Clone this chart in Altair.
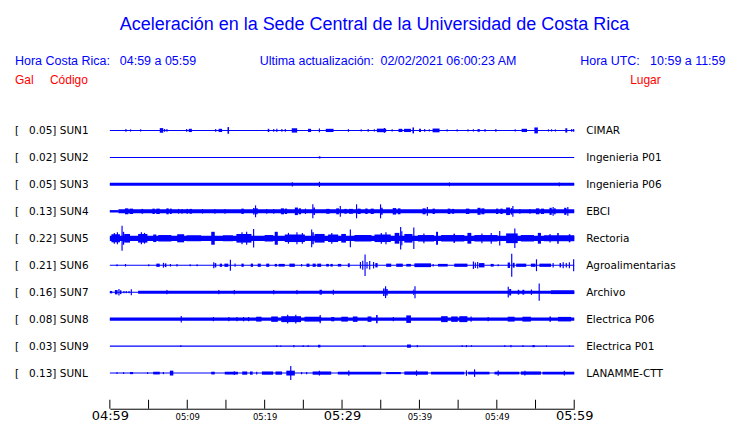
import json
import altair as alt
import pandas as pd

# ---------------- data ----------------
CODES = ["SUN1", "SUN2", "SUN3", "SUN4", "SUN5", "SUN6", "SUN7", "SUN8", "SUN9", "SUNL"]
PLACES = ["CIMAR", "Ingenieria P01", "Ingenieria P06", "EBCI", "Rectoria",
          "Agroalimentarias", "Archivo", "Electrica P06", "Electrica P01", "LANAMME-CTT"]
PEAK_GAL = [0.05, 0.02, 0.05, 0.13, 0.22, 0.21, 0.16, 0.08, 0.03, 0.13]
# thin base line of every trace (half amplitude, Gal)
BASE_GAL = [0.0095, 0.0095, 0.0095, 0.0095, 0.0095, 0.0095, 0.0095, 0.0095, 0.0095, 0.0095]

# envelope segments: (start minute, end minute, half amplitude in Gal)
SUN1 = [(2.0, 2.15, 0.025), (2.6, 2.75, 0.02), (3.9, 4.05, 0.02), (6.45, 6.9, 0.043), (7.0, 7.15, 0.025),
        (7.3, 7.45, 0.025), (9.85, 10.0, 0.025), (10.2, 10.6, 0.03), (13.6, 13.75, 0.025), (14.05, 14.5, 0.03),
        (15.2, 15.4, 0.062), (20.4, 20.6, 0.03), (21.1, 21.25, 0.025), (21.5, 21.65, 0.03), (22.15, 22.3, 0.025),
        (22.6, 22.75, 0.025), (23.5, 24.2, 0.04), (25.6, 26.0, 0.03), (27.0, 27.15, 0.035), (27.9, 28.9, 0.03),
        (30.75, 30.9, 0.025), (32.4, 32.55, 0.02), (33.3, 33.45, 0.025), (34.1, 34.25, 0.02), (34.5, 35.7, 0.033),
        (35.4, 35.55, 0.045), (36.4, 36.55, 0.02), (37.3, 37.8, 0.03), (38.0, 38.9, 0.03), (39.1, 39.3, 0.055),
        (39.95, 40.2, 0.03), (40.6, 40.75, 0.025), (41.2, 41.35, 0.02), (41.7, 42.6, 0.035), (43.5, 43.65, 0.02),
        (44.8, 44.95, 0.02), (46.2, 46.35, 0.02), (46.9, 47.05, 0.02), (47.5, 47.8, 0.025), (48.4, 48.55, 0.025),
        (49.8, 49.95, 0.025), (52.3, 52.45, 0.02), (53.2, 53.9, 0.03), (54.85, 55.3, 0.055), (56.6, 56.75, 0.02),
        (57.0, 57.15, 0.02), (57.5, 57.65, 0.02), (58.85, 59.1, 0.04), (59.6, 59.75, 0.025), (59.85, 60.0, 0.025)]
SUN2 = [(27.0, 27.2, 0.02)]
SUN3 = [(0.0, 60.0, 0.028), (23.5, 23.65, 0.04), (27.0, 27.15, 0.048), (43.8, 43.95, 0.035), (58.0, 58.15, 0.035)]
SUN4 = [(0.0, 1.1, 0.022), (1.1, 60.0, 0.037), (1.95, 2.4, 0.055), (2.55, 3.0, 0.05), (4.1, 4.3, 0.045),
        (5.5, 5.8, 0.05), (6.0, 6.45, 0.05), (7.3, 7.6, 0.055), (7.75, 8.0, 0.05), (8.8, 8.95, 0.045),
        (9.25, 9.4, 0.045), (9.9, 10.1, 0.045), (10.3, 10.6, 0.045), (11.9, 12.05, 0.042),
        (13.5, 13.65, 0.045), (14.8, 14.95, 0.045), (17.0, 17.3, 0.05), (18.5, 18.7, 0.06), (18.75, 18.9, 0.11),
        (18.9, 19.1, 0.055), (20.2, 20.35, 0.045), (21.1, 21.25, 0.045), (22.1, 22.5, 0.055), (22.6, 22.9, 0.05),
        (23.9, 24.3, 0.07), (24.4, 24.7, 0.055), (25.2, 25.35, 0.05),
        (26.15, 26.3, 0.13), (26.3, 26.5, 0.07), (27.95, 28.4, 0.045), (29.25, 29.6, 0.055), (29.7, 29.85, 0.1),
        (30.3, 30.6, 0.045), (30.9, 31.4, 0.045), (31.8, 31.95, 0.13), (32.0, 32.4, 0.05), (33.0, 33.3, 0.05),
        (33.7, 34.1, 0.05), (34.9, 35.05, 0.13), (35.05, 35.25, 0.065), (36.55, 37.0, 0.06), (37.2, 37.55, 0.055),
        (40.4, 40.8, 0.055), (40.95, 41.1, 0.08), (41.7, 42.0, 0.05), (43.65, 44.0, 0.05), (44.2, 44.5, 0.045),
        (46.0, 46.45, 0.05), (47.5, 47.9, 0.065), (48.0, 48.4, 0.055), (49.9, 50.2, 0.05), (50.45, 50.75, 0.05),
        (51.2, 51.7, 0.07), (51.8, 52.0, 0.06), (52.0, 52.15, 0.1), (52.9, 53.05, 0.045), (54.2, 54.35, 0.045),
        (55.05, 55.5, 0.055), (55.7, 56.1, 0.05), (56.8, 57.1, 0.065), (57.2, 57.35, 0.08), (57.4, 57.6, 0.055),
        (58.7, 59.0, 0.065), (59.1, 59.25, 0.08)]
SUN5 = [(0.0, 60.0, 0.049), (0.2, 1.3, 0.075), (0.5, 0.65, 0.1), (0.9, 1.05, 0.11), (1.5, 1.65, 0.23),
        (1.65, 1.85, 0.12), (1.85, 2.6, 0.08), (3.65, 4.85, 0.08), (4.0, 4.15, 0.11), (4.4, 4.55, 0.1),
        (5.6, 6.0, 0.07), (6.25, 7.95, 0.06), (8.7, 9.6, 0.075), (9.9, 11.8, 0.055), (13.1, 13.55, 0.12),
        (14.6, 15.9, 0.055), (16.35, 18.3, 0.08), (17.0, 17.15, 0.11), (17.6, 17.75, 0.12), (18.5, 18.65, 0.17),
        (20.0, 21.1, 0.06), (21.3, 21.7, 0.12), (22.6, 25.2, 0.07), (23.0, 23.15, 0.1), (24.1, 24.25, 0.11),
        (24.8, 24.95, 0.1), (26.0, 26.15, 0.165), (26.15, 26.35, 0.11), (26.45, 27.75, 0.08), (28.2, 29.5, 0.07),
        (28.6, 28.75, 0.1), (29.9, 30.5, 0.08), (31.0, 31.15, 0.165), (31.6, 33.8, 0.06), (34.2, 36.3, 0.07),
        (35.0, 35.15, 0.1), (35.6, 35.75, 0.11), (36.8, 37.4, 0.1), (37.5, 37.65, 0.21), (37.65, 37.8, 0.13),
        (38.05, 39.1, 0.08), (39.2, 39.35, 0.2), (39.8, 41.9, 0.06), (40.5, 40.65, 0.09), (42.15, 42.4, 0.12),
        (42.8, 45.8, 0.06), (44.4, 44.6, 0.085), (46.2, 46.7, 0.1), (47.1, 50.1, 0.06), (48.0, 48.15, 0.09),
        (49.2, 49.35, 0.1), (50.3, 50.45, 0.135), (51.2, 52.7, 0.09), (52.25, 52.4, 0.18), (53.1, 54.8, 0.06),
        (55.3, 55.7, 0.1), (56.1, 60.0, 0.055), (56.8, 56.95, 0.08), (57.8, 58.0, 0.1), (59.3, 59.5, 0.075)]
SUN6 = [(0.85, 1.0, 0.02), (1.95, 2.1, 0.025), (4.95, 5.1, 0.02), (6.0, 6.45, 0.03), (6.85, 7.0, 0.045),
        (7.1, 7.3, 0.035), (7.75, 7.9, 0.025), (8.6, 8.75, 0.025), (10.3, 10.45, 0.02), (11.2, 11.35, 0.02),
        (13.35, 13.5, 0.055), (13.55, 13.75, 0.04), (14.2, 14.5, 0.03), (14.8, 15.3, 0.03), (15.5, 15.65, 0.1),
        (16.1, 16.25, 0.03), (17.0, 17.3, 0.03), (18.2, 18.5, 0.03), (19.1, 19.5, 0.03), (20.2, 20.6, 0.03),
        (21.3, 21.6, 0.025), (21.8, 22.6, 0.025), (23.2, 23.9, 0.03), (24.7, 24.85, 0.025),
        (25.4, 25.8, 0.03), (26.2, 26.6, 0.03), (26.8, 27.3, 0.03), (27.95, 28.3, 0.025), (28.5, 28.8, 0.025),
        (29.45, 29.9, 0.025), (30.75, 31.0, 0.035), (32.3, 32.45, 0.06), (32.6, 32.75, 0.085), (32.9, 33.05, 0.2),
        (33.15, 33.3, 0.06), (33.5, 33.65, 0.08), (34.0, 34.15, 0.06), (34.3, 34.6, 0.04), (35.7, 36.35, 0.03),
        (37.0, 37.85, 0.03), (38.3, 38.9, 0.025), (39.35, 41.5, 0.035), (41.7, 41.85, 0.025), (42.4, 43.65, 0.025),
        (44.5, 46.2, 0.03), (46.9, 47.05, 0.07), (47.15, 47.3, 0.05), (47.45, 47.6, 0.06), (47.7, 48.4, 0.04),
        (49.2, 49.6, 0.025), (50.1, 50.25, 0.02), (51.4, 51.7, 0.05), (51.85, 52.0, 0.215), (52.05, 52.3, 0.045),
        (52.5, 53.8, 0.03), (54.4, 55.0, 0.03), (55.05, 55.2, 0.11), (55.5, 57.0, 0.03), (57.2, 57.35, 0.04),
        (58.1, 58.3, 0.04), (58.5, 58.65, 0.055), (58.9, 59.05, 0.04), (59.3, 59.45, 0.055), (59.85, 60.0, 0.11)]
SUN7 = [(0.0, 0.3, 0.022), (0.65, 1.0, 0.04), (1.1, 1.25, 0.06), (1.3, 1.5, 0.035), (1.75, 1.9, 0.02),
        (2.05, 2.2, 0.02), (2.4, 2.55, 0.02), (2.7, 2.85, 0.055), (3.65, 60.0, 0.027), (7.3, 7.45, 0.04),
        (14.0, 14.15, 0.04), (16.0, 16.15, 0.04), (21.1, 21.25, 0.04), (24.1, 24.25, 0.04), (27.1, 27.4, 0.045),
        (28.8, 28.95, 0.045), (35.3, 35.5, 0.07), (35.55, 35.7, 0.11), (35.7, 35.9, 0.06), (39.2, 39.3, 0.05),
        (39.35, 39.5, 0.11), (51.4, 51.55, 0.1), (51.6, 51.85, 0.06), (52.7, 52.9, 0.045), (53.3, 53.55, 0.045),
        (54.4, 54.55, 0.05), (55.4, 55.55, 0.16), (57.0, 60.0, 0.035)]
SUN8 = [(0.0, 60.0, 0.031), (9.15, 9.3, 0.06), (13.3, 13.45, 0.04), (15.3, 15.45, 0.04), (16.35, 16.5, 0.04),
        (17.2, 17.35, 0.04), (17.85, 18.0, 0.04), (18.9, 19.6, 0.045), (20.85, 21.7, 0.05), (22.15, 24.7, 0.055),
        (22.9, 23.05, 0.08), (23.95, 24.1, 0.08), (25.15, 27.3, 0.045), (27.1, 27.25, 0.075), (28.6, 29.0, 0.04),
        (29.9, 30.75, 0.045), (31.4, 32.0, 0.05), (33.3, 33.8, 0.05), (34.4, 34.6, 0.075), (36.55, 36.7, 0.04),
        (38.3, 38.9, 0.07), (42.8, 43.65, 0.055), (44.1, 44.95, 0.05), (45.15, 46.2, 0.055), (46.6, 46.75, 0.05),
        (48.8, 48.95, 0.04), (51.4, 52.3, 0.045), (53.3, 54.4, 0.045), (56.8, 57.0, 0.05), (57.9, 59.6, 0.042)]
SUN9 = [(9.1, 9.25, 0.015), (21.5, 21.65, 0.015), (22.0, 22.15, 0.012), (23.7, 23.85, 0.02), (24.9, 25.05, 0.015),
        (25.55, 25.7, 0.015), (26.9, 27.2, 0.025), (32.7, 32.85, 0.012), (32.9, 33.05, 0.012), (38.4, 38.9, 0.03),
        (39.65, 39.8, 0.02), (45.45, 45.6, 0.015), (46.0, 46.15, 0.02), (46.65, 46.8, 0.015), (50.95, 51.1, 0.015),
        (51.75, 51.9, 0.02), (53.3, 53.45, 0.015), (54.6, 54.9, 0.02), (56.35, 56.5, 0.012), (59.3, 59.45, 0.012)]
SUNL = [(0.85, 1.0, 0.015), (1.7, 1.85, 0.015), (2.6, 3.0, 0.02), (4.8, 4.95, 0.015), (5.6, 6.45, 0.025),
        (6.85, 7.0, 0.02), (7.75, 8.2, 0.045), (13.1, 13.55, 0.025), (14.85, 16.55, 0.025), (16.0, 16.15, 0.035),
        (17.1, 17.75, 0.03), (18.1, 18.45, 0.03), (18.9, 19.05, 0.025), (19.65, 21.1, 0.03), (21.4, 22.25, 0.03),
        (22.8, 23.9, 0.045), (23.3, 23.45, 0.13), (24.7, 24.85, 0.02), (25.35, 25.5, 0.02), (26.2, 28.6, 0.03),
        (27.0, 27.15, 0.045), (29.45, 35.05, 0.025), (30.8, 30.95, 0.05), (35.7, 37.6, 0.02), (38.05, 41.1, 0.03),
        (39.55, 39.7, 0.05), (41.5, 45.8, 0.025), (46.0, 46.15, 0.05), (46.3, 49.05, 0.025), (47.05, 47.2, 0.07),
        (49.7, 52.9, 0.025), (50.1, 50.25, 0.05), (53.1, 55.7, 0.03), (53.55, 53.7, 0.045), (55.9, 60.0, 0.025),
        (58.65, 58.8, 0.045)]
SEGMENTS = [SUN1, SUN2, SUN3, SUN4, SUN5, SUN6, SUN7, SUN8, SUN9, SUNL]

TICK_MIN = [0, 5, 10, 15, 20, 25, 30, 35, 40, 45, 50, 55, 60]
LABEL_MIN = [0, 10, 20, 30, 40, 50, 60]
TIME_LABELS = ["04:59", "05:09", "05:19", "05:29", "05:39", "05:49", "05:59"]

# ---------------- layout ----------------
W, H = 465, 293
ROW0, STEP = 0.265, 0.5          # Gal units of the stacked traces
Y_MAX = 5.426
BLUE, RED = "#0000ff", "#ff0000"

rows = []
for i, segs in enumerate(SEGMENTS):
    c = ROW0 + i * STEP
    rows.append({"st": CODES[i], "t0": 0.0, "t1": 60.0, "y0": c - BASE_GAL[i], "y1": c + BASE_GAL[i]})
    for t0, t1, a in segs:
        rows.append({"st": CODES[i], "t0": t0, "t1": t1, "y0": c - a, "y1": c + a})
df = pd.DataFrame(rows)

NB = "\u00a0"
lab = pd.DataFrame({
    "c": [ROW0 + i * STEP for i in range(len(CODES))],
    "left": ["[" + NB * 3 + f"{p:.2f}] {s}" for p, s in zip(PEAK_GAL, CODES)],
    "right": PLACES,
})

xscale = alt.Scale(domain=[0, 60], nice=False, zero=False)
yscale = alt.Scale(domain=[0, Y_MAX], nice=False, zero=False, reverse=True)

label_expr = json.dumps(TIME_LABELS) + "[round(datum.value / 10)]"

traces = alt.Chart(df).mark_rect(color=BLUE, strokeWidth=0).encode(
    x=alt.X("t0:Q", scale=xscale, title=None,
            axis=alt.Axis(values=LABEL_MIN, labelExpr=label_expr, ticks=False, tickSize=0, grid=False,
                          domainColor="black", domainWidth=1, labelColor="black",
                          labelFont="DejaVu Sans",
                          labelFontSize={"condition": {"test": "datum.value % 30 === 0", "value": 13},
                                         "value": 8.5},
                          labelBaseline="alphabetic", labelPadding=10.5, labelFlush=False)),
    x2="t1:Q",
    y=alt.Y("y0:Q", scale=yscale, axis=None),
    y2="y1:Q",
)

ticks = alt.Chart(pd.DataFrame({"m": TICK_MIN})).mark_rule(color="black", strokeWidth=1).encode(
    x=alt.X("m:Q", scale=xscale), y=alt.value(H - 9), y2=alt.value(H)
)

left = alt.Chart(lab).mark_text(align="left", baseline="alphabetic", dy=4, font="DejaVu Sans",
                                fontSize=10.5, color="black").encode(
    x=alt.value(-95), y=alt.Y("c:Q", scale=yscale, axis=None), text="left:N")
right = alt.Chart(lab).mark_text(align="left", baseline="alphabetic", dy=4, font="DejaVu Sans",
                                 fontSize=10.5, color="black").encode(
    x=alt.value(477), y=alt.Y("c:Q", scale=yscale, axis=None), text="right:N")


def txt(s, px, py, size, color, align="left"):
    # px, py: page position of the text anchor / baseline
    return alt.Chart(pd.DataFrame({"t": [s]})).mark_text(
        align=align, baseline="alphabetic", font="Liberation Sans", fontSize=size, color=color
    ).encode(x=alt.value(px - 110), y=alt.value(py - 116), text="t:N")


header = [
    txt("Aceleración en la Sede Central de la Universidad de Costa Rica", 375, 30, 18, BLUE, "center"),
    txt("Hora Costa Rica:", 15, 65, 12.5, BLUE),
    txt("04:59 a 05:59", 120, 65, 12.5, BLUE),
    txt("Ultima actualización:", 260, 65, 12.5, BLUE),
    txt("02/02/2021 06:00:23 AM", 381, 65, 12.5, BLUE),
    txt("Hora UTC:", 581, 65, 12.5, BLUE),
    txt("10:59 a 11:59", 651, 65, 12.5, BLUE),
    txt("Gal", 15, 84, 12, RED),
    txt("Código", 50, 84, 12, RED),
    txt("Lugar", 631, 84, 12, RED),
]

chart = alt.layer(traces, ticks, left, right, *header).properties(
    width=W, height=H,
    padding={"left": 102, "top": 108, "right": 158, "bottom": 13},
    autosize=alt.AutoSizeParams(type="none"),
    background="white",
).configure_view(stroke=None)

chart.save("out.html", embed_options={"renderer": "svg", "actions": False})
